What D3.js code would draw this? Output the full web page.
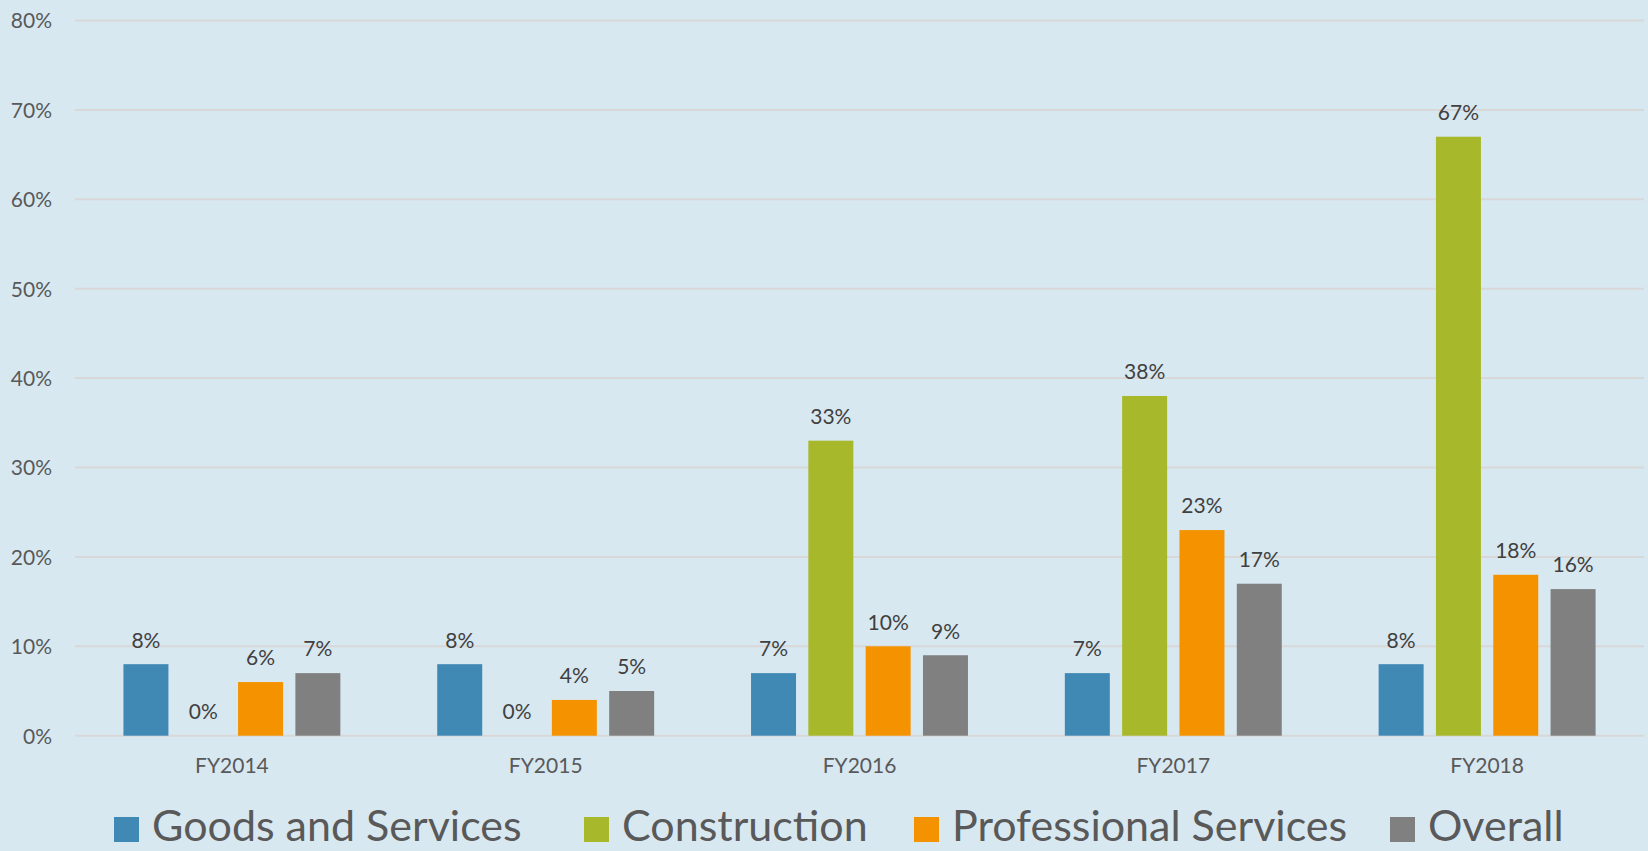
<!DOCTYPE html>
<html><head><meta charset="utf-8">
<script src="https://cdn.jsdelivr.net/npm/d3@7"></script>
<style>
html,body{margin:0;padding:0;background:#d8e8f1;}
svg{display:block;font-family:Lato,"Open Sans",sans-serif;}
</style></head>
<body>
<svg id="chart" width="1648" height="851"></svg>
<script>
const categories = ["FY2014","FY2015","FY2016","FY2017","FY2018"];
const seriesNames = ["Goods and Services","Construction","Professional Services","Overall"];
const goodsAndServices = [8, 8, 7, 7, 8];
const construction = [0, 0, 33, 38, 67];
const professionalServices = [6, 4, 10, 23, 18];
const overall = [7, 5, 9, 17, 16.4];
const seriesColors = ["#4189b5","#a7b82a","#f59200","#808080"];
const yTicks = [0,10,20,30,40,50,60,70,80];

const seriesValues = [goodsAndServices, construction, professionalServices, overall];

const W = 1648, H = 851;
const m = {left:75, right:4, top:20.5, bottom:851-735.7};
const svg = d3.select("#chart");
svg.append("rect").attr("width",W).attr("height",H).attr("fill","#d8e8f1");

const x0 = d3.scaleBand().domain(categories).range([m.left, W-m.right]).padding(0);
const x1 = d3.scaleBand().domain(seriesNames).range([0, x0.bandwidth()]).paddingInner(0.215).paddingOuter(0.845);
const y = d3.scaleLinear().domain([0,80]).range([H-m.bottom, m.top]);

// gridlines
svg.append("g").selectAll("line").data(yTicks).join("line")
  .attr("x1", m.left).attr("x2", W-m.right)
  .attr("y1", d=>y(d)).attr("y2", d=>y(d))
  .attr("stroke","#d8d8d8").attr("stroke-width",2);

// y axis labels
const yAxis = d3.axisLeft(y).tickValues(yTicks).tickFormat(d=>d+"%").tickSize(0).tickPadding(0);
const yg = svg.append("g").attr("transform",`translate(52,0)`).call(yAxis);
yg.select(".domain").remove();
yg.selectAll("text").attr("font-size",21).attr("fill","#595959").attr("font-family","Lato, sans-serif").attr("dy","0.35em");

// x axis labels
const xAxis = d3.axisBottom(x0).tickSize(0).tickPadding(0);
const xg = svg.append("g").attr("transform",`translate(0,${y(0)+30})`).call(xAxis);
xg.select(".domain").remove();
xg.selectAll("text").attr("font-size",21).attr("fill","#595959").attr("font-family","Lato, sans-serif").attr("dy","0.35em");

// bars
const rows = [];
categories.forEach((c,i)=>{
  seriesNames.forEach((s,j)=>{
    rows.push({cat:c, ser:s, v:seriesValues[j][i], color:seriesColors[j]});
  });
});
const g = svg.append("g");
g.selectAll("rect").data(rows).join("rect")
  .attr("x", d=>x0(d.cat)+x1(d.ser))
  .attr("width", x1.bandwidth())
  .attr("y", d=>y(d.v))
  .attr("height", d=>y(0)-y(d.v))
  .attr("fill", d=>d.color);

g.selectAll("text").data(rows).join("text")
  .attr("x", d=>x0(d.cat)+x1(d.ser)+x1.bandwidth()/2)
  .attr("y", d=>y(d.v)-24)
  .attr("dy","0.35em")
  .attr("text-anchor","middle")
  .attr("font-size",21)
  .attr("fill","#404040")
  .text(d=>Math.round(d.v)+"%");

// legend
const legendX = [114, 584, 914, 1390];
const lg = svg.append("g");
seriesNames.forEach((s,j)=>{
  const it = lg.append("g").attr("transform",`translate(${legendX[j]},0)`);
  it.append("rect").attr("x",0).attr("y",817).attr("width",25).attr("height",25).attr("fill",seriesColors[j]);
  it.append("text").attr("x",38).attr("y",841).attr("font-size",43).attr("fill","#595959").text(s);
});
</script>
</body></html>
